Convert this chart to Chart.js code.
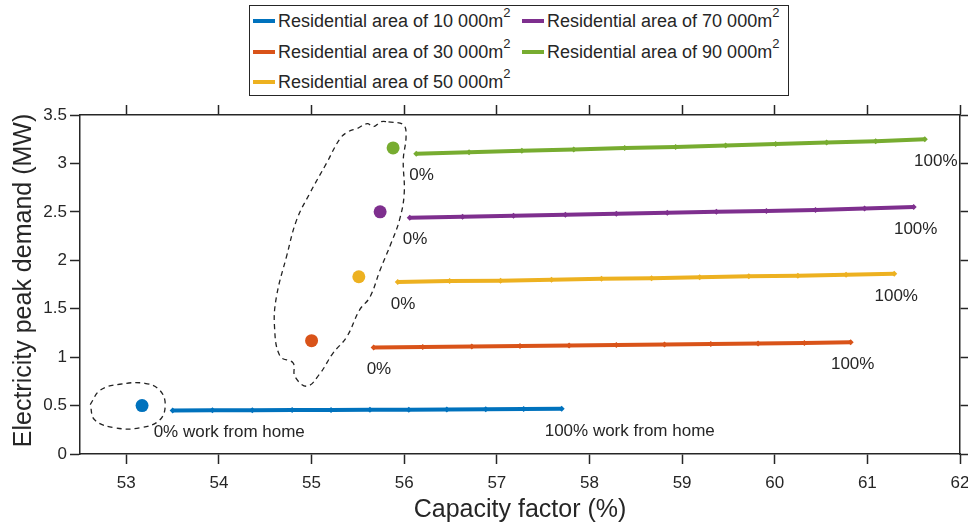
<!DOCTYPE html>
<html>
<head>
<meta charset="utf-8">
<script src="https://cdn.jsdelivr.net/npm/chart.js@4.4.1/dist/chart.umd.min.js"></script>
<style>
  body { margin: 0; background: #fff; }
  #wrap { position: relative; width: 968px; height: 526px; }
  #legend {
    position: absolute; left: 249px; top: 5px; width: 538px; height: 89px;
    border: 1.5px solid #262626; background: #fff;
    font-family: 'Liberation Sans', Arial, sans-serif; font-size: 18px; color: #262626;
  }
  .item { position: absolute; white-space: nowrap; line-height: 20px; }
  .sw { display: inline-block; width: 22px; height: 4px; vertical-align: middle; margin-right: 3px; position: relative; top: -1px; }
  sup { font-size: 13px; line-height: 0; position: relative; top: -3px; }
</style>
</head>
<body>
<div id="wrap">
  <canvas id="myChart" width="968" height="526"></canvas>
  <div id="legend"></div>
</div>
<script>
// residential areas (m2) and series colours
var areas = ['10 000', '30 000', '50 000', '70 000', '90 000'];
var colors = ['#0072BD', '#D95319', '#EDB120', '#7E2F8E', '#77AC30'];

// capacity factor (%) for 0%, 10%, ... 100% work from home
var cap10 = [53.50, 53.93, 54.36, 54.79, 55.21, 55.63, 56.05, 56.46, 56.88, 57.29, 57.70];
var cap30 = [55.67, 56.20, 56.73, 57.25, 57.78, 58.29, 58.81, 59.31, 59.82, 60.32, 60.82];
var cap50 = [55.93, 56.49, 57.04, 57.59, 58.13, 58.67, 59.19, 59.72, 60.25, 60.77, 61.29];
var cap70 = [56.06, 56.63, 57.18, 57.74, 58.29, 58.84, 59.37, 59.91, 60.44, 60.97, 61.50];
var cap90 = [56.13, 56.70, 57.27, 57.83, 58.38, 58.93, 59.47, 60.01, 60.56, 61.09, 61.62];

// electricity peak demand (MW)
var peak10 = [0.450, 0.451, 0.452, 0.453, 0.454, 0.456, 0.458, 0.460, 0.462, 0.464, 0.468];
var peak30 = [1.100, 1.105, 1.110, 1.115, 1.120, 1.125, 1.130, 1.135, 1.140, 1.145, 1.155];
var peak50 = [1.775, 1.785, 1.790, 1.800, 1.810, 1.815, 1.825, 1.835, 1.840, 1.850, 1.860];
var peak70 = [2.440, 2.450, 2.460, 2.470, 2.480, 2.490, 2.500, 2.510, 2.520, 2.535, 2.550];
var peak90 = [3.100, 3.115, 3.130, 3.145, 3.160, 3.170, 3.185, 3.200, 3.215, 3.230, 3.250];

// reference (baseline) points
var baseCap = [53.17, 55.00, 55.51, 55.74, 55.88];
var basePeak = [0.50, 1.17, 1.83, 2.50, 3.16];

// hand drawn dashed outlines
var blobCap = [55.83, 55.99, 56.02, 55.99, 56.00, 55.95, 55.86, 55.74, 55.63, 55.52, 55.38, 55.23, 55.09, 54.95,
               54.82, 54.80, 54.66, 54.60, 54.62, 54.73, 54.84, 54.98, 55.16, 55.31, 55.40, 55.49, 55.60, 55.67, 55.75, 55.83];
var blobPeak = [3.43, 3.40, 3.28, 3.04, 2.69, 2.42, 2.18, 1.90, 1.62, 1.49, 1.21, 1.04, 0.83, 0.70,
                0.80, 0.94, 1.01, 1.31, 1.62, 2.04, 2.42, 2.69, 3.00, 3.26, 3.33, 3.36, 3.41, 3.38, 3.43, 3.43];
var ringCap = [52.61, 52.72, 52.93, 53.20, 53.36, 53.42, 53.36, 53.15, 52.88, 52.66, 52.61];
var ringPeak = [0.51, 0.66, 0.72, 0.73, 0.66, 0.51, 0.35, 0.27, 0.27, 0.35, 0.51];

var startLabels = ['0% work from home', '0%', '0%', '0%', '0%'];
var endLabels = ['100% work from home', '100%', '100%', '100%', '100%'];

var xTicks = [53, 54, 55, 56, 57, 58, 59, 60, 61, 62];

var caps = [cap10, cap30, cap50, cap70, cap90];
var peaks = [peak10, peak30, peak50, peak70, peak90];

var pts = function (xs, ys) {
    return xs.map(function (x, i) { return { x: x, y: ys[i] }; });
};

var FONT = "'Liberation Sans', Arial, sans-serif";
var INK = '#262626';

var datasets = [];
for (var i = 0; i < caps.length; i++) {
    datasets.push({
        data: pts(caps[i], peaks[i]),
        showLine: true,
        borderColor: colors[i],
        backgroundColor: colors[i],
        borderWidth: 4,
        pointStyle: 'rectRot',
        pointRadius: 3,
        pointBorderWidth: 0
    });
}
for (var j = 0; j < baseCap.length; j++) {
    datasets.push({
        data: [{ x: baseCap[j], y: basePeak[j] }],
        backgroundColor: colors[j],
        borderWidth: 0,
        pointRadius: 6.5
    });
}
[[blobCap, blobPeak], [ringCap, ringPeak]].forEach(function (o) {
    datasets.push({
        data: pts(o[0], o[1]),
        showLine: true,
        borderColor: '#222',
        borderWidth: 1.3,
        borderDash: [5, 4],
        tension: 0.4,
        pointRadius: 0
    });
});

// 0% / 100% labels next to the first and last point of each line, plus the y title
var extras = {
    id: 'extras',
    afterDatasetsDraw: function (chart) {
        var ctx = chart.ctx;
        ctx.save();
        ctx.font = '17px ' + FONT;
        ctx.fillStyle = INK;
        ctx.textBaseline = 'middle';
        for (var k = 0; k < caps.length; k++) {
            var meta = chart.getDatasetMeta(k);
            var first = meta.data[0], last = meta.data[meta.data.length - 1];
            ctx.textAlign = 'left';
            ctx.fillText(startLabels[k], first.x + (k == 0 ? -19 : -7), first.y + 22);
            if (k == 0) {
                ctx.fillText(endLabels[k], last.x - 17, last.y + 23);
            } else {
                ctx.textAlign = 'center';
                ctx.fillText(endLabels[k], last.x + (k == 4 ? 11 : 2), last.y + 22);
            }
        }
        // y axis title
        var area = chart.chartArea;
        ctx.translate(24, (area.top + area.bottom) / 2 - 4);
        ctx.rotate(-Math.PI / 2);
        ctx.textAlign = 'center';
        ctx.font = '25px ' + FONT;
        ctx.fillText('Electricity peak demand (MW)', 0, 0);
        ctx.restore();
    }
};

var fixTicks = function (scale) { scale.ticks = xTicks.map(function (v) { return { value: v }; }); };
var noPad = function (w, h) {
    return function (s) {
        if (w) s.width = w;
        if (h) s.height = h;
        s.paddingLeft = 0; s.paddingRight = 0; s.paddingTop = 0; s.paddingBottom = 0;
    };
};
var axisLine = { display: true, color: INK, width: 1.5 };
var tickGrid = { drawOnChartArea: false, drawTicks: true, tickLength: 10, tickColor: INK, tickWidth: 1.5 };

new Chart(document.getElementById('myChart'), {
    type: 'scatter',
    data: { datasets: datasets },
    plugins: [extras],
    options: {
        responsive: false,
        animation: false,
        devicePixelRatio: 1,
        layout: { padding: { top: 105, right: 0, left: 0, bottom: 0 } },
        plugins: { legend: { display: false }, tooltip: { enabled: false } },
        scales: {
            x: {
                type: 'linear', position: 'bottom', min: 52.5, max: 62,
                afterBuildTicks: fixTicks,
                afterFit: noPad(0, 72),
                border: axisLine, grid: tickGrid,
                ticks: { color: INK, font: { family: FONT, size: 17 }, padding: 9, maxRotation: 0 },
                title: { display: true, text: 'Capacity factor (%)', color: INK,
                         font: { family: FONT, size: 25 }, padding: { top: 0, bottom: 1 } }
            },
            x2: {
                type: 'linear', position: 'top', min: 52.5, max: 62,
                afterBuildTicks: fixTicks,
                afterFit: noPad(0, 10),
                border: axisLine, grid: tickGrid,
                ticks: { display: false }
            },
            y: {
                type: 'linear', position: 'left', min: 0, max: 3.5,
                afterFit: noPad(80, 0),
                border: axisLine, grid: tickGrid,
                ticks: { stepSize: 0.5, color: INK, font: { family: FONT, size: 17 }, padding: 3,
                         callback: function (v) { return String(v); } }
            },
            y2: {
                type: 'linear', position: 'right', min: 0, max: 3.5,
                afterFit: noPad(8, 0),
                border: axisLine, grid: tickGrid,
                ticks: { display: false, stepSize: 0.5 }
            }
        }
    }
});

// legend, column-major like the original
var legend = document.getElementById('legend');
var colX = [3, 272];
var rowY = [5, 35.5, 66];
areas.forEach(function (a, n) {
    var col = n < 3 ? 0 : 1, row = n < 3 ? n : n - 3;
    var el = document.createElement('div');
    el.className = 'item';
    el.style.left = colX[col] + 'px';
    el.style.top = rowY[row] + 'px';
    el.innerHTML = '<span class="sw" style="background:' + colors[n] + '"></span>Residential area of ' + a + 'm<sup>2</sup>';
    legend.appendChild(el);
});
</script>
</body>
</html>
